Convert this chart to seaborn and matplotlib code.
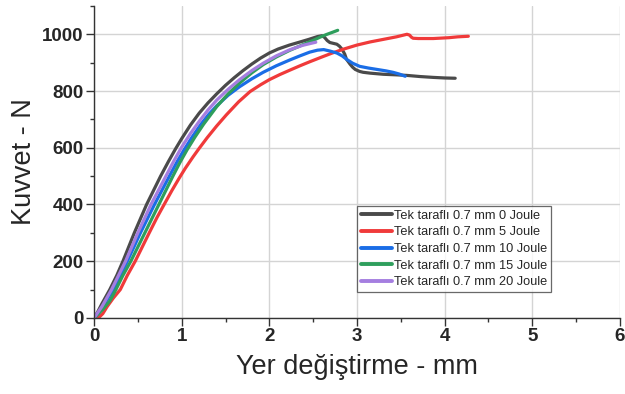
import numpy as np
import pandas as pd
import matplotlib
matplotlib.use("Agg")
import matplotlib.pyplot as plt
from matplotlib.ticker import MultipleLocator
import seaborn as sns

# values (displacement mm, force N)
x_0j = [0, 0.04, 0.09, 0.18, 0.26, 0.33, 0.46, 0.60, 0.76, 0.85, 0.93, 1.0, 1.1, 1.2,
        1.3, 1.4, 1.5, 1.6, 1.7, 1.8, 1.9, 2.0, 2.1, 2.23, 2.33, 2.45, 2.55, 2.6, 2.63,
        2.66, 2.69, 2.73, 2.77, 2.80, 2.83, 2.86, 2.88, 2.92, 2.95, 2.98, 3.03, 3.07,
        3.15, 3.3, 3.45, 3.57, 3.72, 3.87, 4.0, 4.12]
y_0j = [0, 20, 50, 100, 150, 200, 300, 400, 500, 552, 596, 632, 680, 722,
        758, 790, 820, 847, 872, 895, 916, 934, 948, 962, 971, 982, 992, 995, 989,
        978, 971, 968, 965, 958, 947, 930, 912, 895, 884, 876, 869, 866,
        863, 859, 857, 855, 851, 848, 846, 845]

x_5j = [0, 0.05, 0.1, 0.15, 0.22, 0.30, 0.38, 0.47, 0.63, 0.72, 0.80, 0.89, 0.97, 1.04,
        1.13, 1.2, 1.29, 1.4, 1.51, 1.65, 1.78, 1.9, 2.0, 2.12, 2.23, 2.35, 2.46,
        2.6, 2.71, 2.85, 3.0, 3.15, 3.3, 3.45, 3.57, 3.6, 3.62, 3.64, 3.7, 3.87,
        4.05, 4.15, 4.27]
y_5j = [0, 0, 15, 40, 70, 100, 150, 200, 300, 355, 400, 450, 492, 527,
        568, 598, 635, 677, 716, 762, 798, 822, 840, 858, 873, 889, 903,
        920, 933, 948, 962, 973, 982, 991, 1000, 997, 990, 986, 985, 985,
        988, 991, 993]

x_10j = [0, 0.05, 0.1, 0.22, 0.3, 0.38, 0.53, 0.69, 0.86, 0.95, 1.03, 1.12, 1.22, 1.31,
         1.4, 1.53, 1.66, 1.8, 1.93, 2.08, 2.23, 2.35, 2.46, 2.55, 2.62, 2.69, 2.77,
         2.83, 2.88, 2.95, 3.03, 3.13, 3.23, 3.33, 3.41, 3.48, 3.55]
y_10j = [0, 15, 40, 100, 150, 200, 300, 400, 500, 552, 594, 638, 683, 718,
         748, 785, 815, 843, 866, 889, 909, 924, 937, 944, 946, 941, 934,
         924, 912, 898, 887, 881, 876, 871, 866, 860, 852]

x_15j = [0, 0.1, 0.18, 0.25, 0.33, 0.42, 0.58, 0.74, 0.9, 0.98, 1.06, 1.15, 1.25, 1.4,
         1.53, 1.66, 1.8, 1.93, 2.08, 2.23, 2.38, 2.51, 2.58, 2.65, 2.72, 2.78]
y_15j = [0, 30, 60, 100, 150, 200, 300, 400, 500, 548, 592, 637, 683, 745,
         790, 828, 864, 893, 920, 943, 963, 980, 990, 999, 1007, 1014]

x_20j = [0, 0.09, 0.2, 0.28, 0.36, 0.5, 0.65, 0.82, 0.91, 1.0, 1.1, 1.2, 1.3, 1.4,
         1.53, 1.66, 1.8, 1.93, 2.08, 2.23, 2.38, 2.53]
y_20j = [0, 40, 100, 150, 200, 300, 400, 500, 553, 602, 650, 693, 733, 768,
         806, 840, 872, 898, 924, 945, 961, 972]

labels = ["Tek taraflı 0.7 mm 0 Joule", "Tek taraflı 0.7 mm 5 Joule",
          "Tek taraflı 0.7 mm 10 Joule", "Tek taraflı 0.7 mm 15 Joule",
          "Tek taraflı 0.7 mm 20 Joule"]
colors = ["#4a4a4a", "#f03a3a", "#1a6de6", "#2e9e5c", "#a57ee0"]

series = [(x_0j, y_0j), (x_5j, y_5j), (x_10j, y_10j), (x_15j, y_15j), (x_20j, y_20j)]
frames = []
for lab, (xs, ys) in zip(labels, series):
    frames.append(pd.DataFrame({"x": xs, "y": ys, "seri": lab}))
df = pd.concat(frames, ignore_index=True)

sns.set_style("ticks")
plt.rcParams['font.family'] = ['Liberation Sans', 'DejaVu Sans']

fig = plt.figure(figsize=(6.25, 3.94), dpi=100)
ax = fig.add_axes([0.1504, 0.193, 0.8416, 0.792])

sns.lineplot(data=df, x="x", y="y", hue="seri", hue_order=labels,
             palette=colors, sort=False, estimator=None, linewidth=2.3, ax=ax)
for line in ax.get_lines():
    line.set_solid_joinstyle("round")

ax.set_xlim(0, 6)
ax.set_ylim(0, 1100)
ax.xaxis.set_major_locator(MultipleLocator(1))
ax.xaxis.set_minor_locator(MultipleLocator(0.5))
ax.yaxis.set_major_locator(MultipleLocator(200))
ax.yaxis.set_minor_locator(MultipleLocator(100))
ax.grid(True, which="major", color="#d4d4d4", linewidth=1.0)
ax.set_axisbelow(True)
sns.despine(ax=ax)
for s in ["left", "bottom"]:
    ax.spines[s].set_color("#333333")
    ax.spines[s].set_linewidth(1.0)
ax.tick_params(which="major", length=5.5, width=1.0, color="#333333",
               labelsize=13.5, pad=2)
ax.tick_params(which="minor", length=3, width=1.0, color="#333333")
for t in ax.get_xticklabels() + ax.get_yticklabels():
    t.set_fontweight("bold")

ax.set_xlabel("Yer değiştirme - mm", fontsize=19.5, labelpad=6)
ax.set_ylabel("Kuvvet - N", fontsize=19.5, labelpad=4)

leg = ax.legend(loc="lower left", bbox_to_anchor=(0.5, 0.083), fontsize=9.2,
                frameon=True, fancybox=False, handlelength=2.4, handletextpad=0.2,
                labelspacing=0.36, borderpad=0.3, borderaxespad=0)
leg.get_frame().set_edgecolor("#444444")
leg.get_frame().set_linewidth(0.9)
for line in leg.get_lines():
    line.set_linewidth(2.8)

fig.savefig("out.png", dpi=100)
